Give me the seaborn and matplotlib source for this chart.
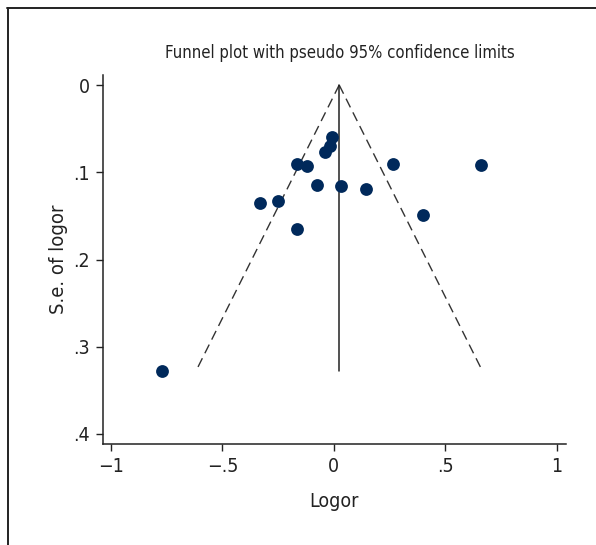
import matplotlib
matplotlib.use("Agg")
import matplotlib.pyplot as plt
import seaborn as sns
import pandas as pd
import numpy as np
from matplotlib.lines import Line2D
from matplotlib import font_manager as fm

# Data
logor = [-0.773, -0.333, -0.250, -0.166, -0.166, -0.121, -0.0745, -0.040,
         -0.016, -0.007, 0.033, 0.144, 0.267, 0.399, 0.659]
se_logor = [0.3275, 0.1349, 0.1326, 0.1654, 0.0905, 0.0928, 0.1146, 0.0771,
            0.0699, 0.0599, 0.1161, 0.1189, 0.0905, 0.1493, 0.0920]
pooled = 0.024
z95 = 1.96

x_ticks = [-1, -0.5, 0, 0.5, 1]
x_ticklabels = ["\u22121", "\u2212.5", "0", ".5", "1"]
y_ticks = [0, 0.1, 0.2, 0.3, 0.4]
y_ticklabels = ["0", ".1", ".2", ".3", ".4"]

df = pd.DataFrame({"Logor": logor, "se": se_logor})

sns.set_theme(style="ticks")

# pick a condensed face if one is installed
cond = None
for f in fm.fontManager.ttflist:
    if f.stretch in ("condensed", "semi-condensed", "extra-condensed") or \
            "Narrow" in f.name or "Condensed" in f.name:
        if f.style == "normal" and f.weight in (400, "normal", "regular"):
            cond = f.fname
            break
if cond is not None:
    fp = fm.FontProperties(fname=cond)
else:
    fp = fm.FontProperties(family="DejaVu Sans")
plt.rcParams["font.family"] = ["DejaVu Sans"]

fig = plt.figure(figsize=(5.96, 5.45), dpi=100)
ax = fig.add_axes([0.1723, 0.1853, 0.7768, 0.6771])

max_se = max(se_logor)
se_grid = np.array([0.0, max_se])
ax.plot(pooled - z95 * se_grid, se_grid, color="#333333", lw=1.0, dashes=(7, 4))
ax.plot(pooled + z95 * se_grid, se_grid, color="#333333", lw=1.0, dashes=(7, 4))
ax.plot([pooled, pooled], [0, max_se], color="#222222", lw=1.1)

sns.scatterplot(data=df, x="Logor", y="se", ax=ax, s=85, color="#00295b",
                edgecolor="#00295b", linewidth=0, zorder=3)

ax.set_xlim(-1.037, 1.04)
ax.set_ylim(0.4115, -0.0115)
ax.set_xticks(x_ticks)
ax.set_xticklabels(x_ticklabels, fontproperties=fp, fontsize=14)
ax.set_yticks(y_ticks)
ax.set_yticklabels(y_ticklabels, fontproperties=fp, fontsize=14)
ax.tick_params(axis="both", direction="out", length=5, width=1, color="#222222",
               labelcolor="#222222", pad=4)
for s in ["top", "right"]:
    ax.spines[s].set_visible(False)
for s in ["left", "bottom"]:
    ax.spines[s].set_color("#222222")
    ax.spines[s].set_linewidth(1.1)

ax.set_xlabel("Logor", fontproperties=fp, fontsize=14, color="#222222", labelpad=12)
ax.set_ylabel("S.e. of logor", fontproperties=fp, fontsize=14.5, color="#222222", labelpad=4)
ax.set_title("Funnel plot with pseudo 95% confidence limits", fontproperties=fp,
             fontsize=12, color="#222222", pad=12, x=0.513)

# outer frame (top and left edges as in the reference crop)
fig.add_artist(Line2D([7.5/596, 1.0], [1 - 7.5/545, 1 - 7.5/545],
                      transform=fig.transFigure, color="#222222", lw=1.4))
fig.add_artist(Line2D([8/596, 8/596], [0.0, 1 - 7.5/545],
                      transform=fig.transFigure, color="#222222", lw=1.4))

fig.savefig("out.png", dpi=100)
